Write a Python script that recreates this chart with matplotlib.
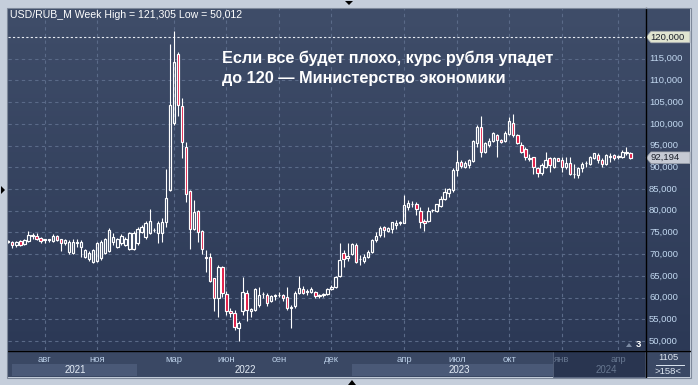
import matplotlib
matplotlib.use('Agg')
import matplotlib.pyplot as plt
import numpy as np
from matplotlib import transforms
from matplotlib.patches import Polygon, Rectangle
from matplotlib.lines import Line2D
from matplotlib.colors import LinearSegmentedColormap

W, H = 698, 385

# ---------------- data (weekly USD/RUB candles) ----------------
opens = [72.7, 72.9, 72.0, 73.0, 72.3, 73.1, 74.2, 74.2, 73.8, 73.3,
         73.4, 73.1, 74.2, 73.4, 72.5, 70.6, 70.3, 72.6, 71.7, 69.4,
         68.8, 68.3, 68.5, 69.0, 70.3, 70.8, 72.9, 71.7, 72.5, 72.1,
         71.1, 71.1, 72.5, 75.2, 73.9, 74.9, 75.5, 74.8, 74.8, 77.5,
         84.8, 100.1, 116.2, 104.0, 94.6, 84.5, 75.8, 79.9, 75.3, 69.4,
         69.3, 64.4, 60.0, 67.0, 60.8, 56.9, 56.4, 52.9, 56.8, 61.0,
         57.0, 57.1, 58.3, 60.8, 60.6, 59.1, 60.4, 60.5, 60.6, 60.2,
         57.7, 58.1, 61.1, 61.9, 61.4, 61.4, 61.2, 60.4, 60.6, 60.75,
         61.9, 62.4, 65.0, 70.2, 69.0, 70.0, 72.1, 68.8, 68.5, 69.3,
         70.6, 73.3, 74.4, 76.3, 75.4, 75.7, 76.7, 77.1, 77.2, 80.8,
         81.5, 81.5, 79.9, 77.7, 77.7, 80.1, 79.9, 81.1, 82.6, 84.0,
         84.8, 89.4, 91.3, 90.0, 90.5, 91.5, 95.7, 99.35, 93.6, 95.1,
         96.1, 97.4, 96.4, 96.1, 97.66, 100.27, 97.43, 95.13, 94.13, 92.1,
         92.29, 89.76, 88.76, 90.14, 92.06, 89.99, 92.06, 91.68, 90.14, 91.06,
         88.5, 88.23, 89.76, 90.9, 90.76, 92.06, 92.83, 91.68, 90.68, 92.4,
         92.83, 92.45, 92.45, 93.3, 93.37]
highs = [73.3, 73.1, 73.0, 73.2, 73.5, 75.3, 74.8, 74.8, 74.0, 73.6,
         73.6, 74.6, 74.4, 73.6, 73.4, 73.3, 73.5, 73.5, 73.2, 71.3,
         70.8, 71.3, 72.9, 73.3, 73.8, 76.0, 74.8, 73.8, 74.6, 74.0,
         75.2, 75.3, 76.2, 76.6, 77.6, 80.3, 76.0, 77.6, 78.3, 89.6,
         118.4, 121.3, 116.5, 105.9, 95.9, 84.7, 82.5, 80.1, 75.5, 70.9,
         70.2, 64.6, 67.5, 67.2, 61.5, 57.5, 57.1, 54.5, 64.8, 61.7,
         57.6, 62.1, 62.5, 61.4, 61.0, 60.6, 60.8, 61.4, 60.8, 62.5,
         58.3, 61.5, 65.0, 62.7, 61.9, 62.4, 61.5, 60.75, 61.1, 62.1,
         62.9, 65.0, 72.5, 70.95, 72.5, 72.6, 72.5, 69.8, 70.0, 71.0,
         73.4, 75.2, 76.5, 76.5, 76.3, 77.5, 77.9, 77.7, 83.6, 82.5,
         82.2, 81.9, 80.8, 78.2, 80.9, 80.5, 81.6, 83.4, 85.2, 85.2,
         89.8, 94.0, 91.7, 91.4, 91.8, 96.4, 99.7, 101.8, 95.9, 96.7,
         98.2, 97.7, 96.6, 98.4, 101.66, 102.27, 97.7, 95.75, 94.75, 92.98,
         92.45, 89.99, 90.91, 93.44, 92.45, 92.45, 92.2, 92.29, 92.29, 92.29,
         90.76, 90.14, 91.29, 91.52, 92.6, 93.37, 93.21, 92.06, 92.98, 93.21,
         93.06, 92.83, 93.98, 94.6, 93.6]
lows = [72.5, 71.5, 71.7, 71.9, 72.0, 72.9, 73.6, 73.3, 72.6, 72.6,
        72.9, 72.9, 73.0, 70.8, 72.1, 70.0, 70.0, 71.7, 69.3, 69.0,
        68.4, 67.9, 68.2, 68.7, 70.0, 70.6, 72.1, 71.5, 72.2, 71.8,
        70.9, 70.9, 72.2, 74.9, 73.6, 74.7, 75.1, 72.5, 72.9, 76.2,
        84.5, 99.8, 101.7, 92.1, 82.1, 71.2, 75.6, 72.7, 70.0, 65.8,
        63.7, 56.9, 55.6, 60.2, 56.0, 55.5, 52.5, 50.0, 56.0, 54.5,
        55.6, 56.8, 57.9, 59.8, 58.0, 58.9, 59.4, 60.2, 59.3, 57.1,
        53.1, 57.5, 60.8, 60.8, 60.7, 61.0, 59.8, 60.0, 60.2, 60.6,
        61.7, 62.1, 64.8, 67.1, 68.5, 69.8, 67.9, 67.5, 67.9, 69.0,
        70.2, 72.9, 74.0, 73.9, 75.2, 74.8, 75.9, 76.7, 77.1, 80.2,
        80.8, 79.0, 76.1, 75.3, 77.5, 79.8, 79.8, 80.8, 82.5, 83.2,
        84.4, 88.0, 89.8, 89.8, 89.8, 91.3, 94.7, 92.4, 93.2, 94.7,
        95.9, 92.3, 95.5, 95.8, 97.43, 97.05, 95.3, 93.21, 91.68, 91.52,
        88.46, 87.84, 88.23, 89.76, 88.99, 89.76, 91.4, 88.99, 89.53, 88.23,
        87.46, 87.46, 88.99, 90.14, 90.53, 91.83, 90.91, 90.14, 90.53, 91.29,
        91.68, 91.83, 92.06, 92.83, 91.83]
closes = [73.1, 72.0, 72.8, 72.0, 73.3, 74.4, 74.3, 73.6, 73.0, 73.4,
          73.2, 74.2, 73.3, 72.6, 73.2, 72.9, 72.8, 72.7, 72.9, 71.0,
          70.3, 71.0, 72.5, 72.9, 73.4, 75.6, 73.9, 73.4, 74.2, 73.6,
          74.8, 74.9, 75.7, 76.2, 77.2, 77.7, 75.6, 77.1, 77.3, 82.9,
          104.3, 114.3, 104.3, 95.9, 83.8, 75.8, 79.8, 75.0, 71.2, 69.2,
          63.9, 60.0, 67.0, 61.0, 56.8, 56.4, 53.3, 54.1, 61.2, 57.1,
          57.3, 61.9, 60.6, 60.9, 58.8, 60.4, 60.5, 60.6, 60.0, 57.5,
          57.8, 61.1, 62.1, 61.1, 61.6, 62.0, 60.4, 60.5, 60.7, 61.9,
          62.4, 64.8, 68.7, 68.8, 69.6, 72.3, 68.3, 68.9, 69.4, 70.6,
          73.3, 74.2, 76.1, 75.6, 76.1, 77.3, 77.2, 77.4, 81.3, 81.7,
          81.6, 80.5, 77.3, 77.1, 79.9, 80.2, 81.5, 82.6, 84.2, 84.9,
          89.4, 91.3, 90.3, 91.1, 91.7, 96.1, 99.35, 93.6, 95.5, 96.1,
          98.0, 96.4, 95.9, 98.0, 100.66, 97.43, 95.52, 93.6, 92.45, 92.0,
          89.99, 88.61, 90.53, 91.68, 90.53, 92.06, 91.52, 90.14, 90.91, 88.46,
          88.4, 89.76, 90.76, 91.0, 92.29, 93.21, 91.68, 90.76, 92.83, 92.5,
          92.06, 92.5, 93.6, 93.4, 92.194]

month_labels = ['авг', 'ноя', 'мар', 'июн', 'сен', 'дек', 'апр', 'июл', 'окт', 'янв', 'апр']
month_bars = [9, 22, 41, 54, 67, 80, 98, 111, 124, 137, 151]
year_labels = ['2021', '2022', '2023', '2024']
year_label_bars = [16.5, 58.6, 111.6, 148.0]
price_ticks = [50, 55, 60, 65, 70, 75, 80, 85, 90, 95, 100, 105, 110, 115]
level_120 = 120.0
header = 'USD/RUB_M Week High = 121,305 Low = 50,012'
title_lines = ['Если все будет плохо, курс рубля упадет', 'до 120 — Министерство экономики']

FONT = ['Liberation Sans', 'DejaVu Sans']
plt.rcParams['font.family'] = FONT


def rect_px(x0, y0, x1, y1):
    return [x0 / W, 1 - y1 / H, (x1 - x0) / W, (y1 - y0) / H]


def fx(px):
    return px / W


def fy(py):
    return 1 - py / H


fig = plt.figure(figsize=(W / 100, H / 100), dpi=100)
fig.patch.set_facecolor('#c5cedb')

# gradient background for plot and price axis
bg = fig.add_axes(rect_px(8, 8, 690, 350))
grad = np.linspace(0, 1, 256).reshape(-1, 1)
cmap = LinearSegmentedColormap.from_list('g', ['#3f4d69', '#2c3956'])
bg.imshow(grad, aspect='auto', cmap=cmap, extent=[0, 1, 0, 1], origin='upper')
bg.axis('off')

ax = fig.add_axes(rect_px(8, 8, 645, 350))
ax.set_facecolor('none')
ax.set_xlim(-0.07, 157.6)
ax.set_ylim(47.93, 126.68)
ax.axis('off')

grid_c = '#5a6a88'
for v in price_ticks:
    ax.axhline(v, color=grid_c, lw=0.8, ls=(0, (3, 3)), zorder=1)
for m in month_bars:
    ax.axvline(m, color=grid_c, lw=0.8, ls=(0, (3, 3)), zorder=1)
ax.axhline(level_120, color='#e6ebf3', lw=0.8, ls=(0, (2, 2)), zorder=2)

# candles
o = np.array(opens); h = np.array(highs); l = np.array(lows); c = np.array(closes)
x = np.arange(len(c))
top = np.maximum(o, c)
bot = np.minimum(o, c)
up = c >= o
face = ['none' if u else '#e0103c' for u in up]
ax.vlines(x, top, h, color='white', lw=0.8, zorder=3)
ax.vlines(x, l, bot, color='white', lw=0.8, zorder=3)
hgt = np.maximum(top - bot, 0.12)
ax.bar(x, hgt, bottom=bot, width=0.58, color=face, edgecolor='white', linewidth=0.85, zorder=4)

# header & title
fig.text(fx(10), fy(15), header, color='white', fontsize=7.6, va='center', ha='left')
fig.text(fx(222), fy(63.3), title_lines[0], color='white', fontsize=11.7, fontweight='bold', va='baseline', ha='left')
fig.text(fx(222), fy(82.7), title_lines[1], color='white', fontsize=11.7, fontweight='bold', va='baseline', ha='left')

# price axis labels
ytr = transforms.blended_transform_factory(fig.transFigure, ax.transData)
for v in price_ticks:
    fig.text(fx(649), v, f'{v},000', transform=ytr, color='#c2d8f0', fontsize=6.8, va='center', ha='left')


def tag(value, text, fc):
    hh = 5.8 / 4.343
    pts = [(fx(646), value), (fx(651), value + hh), (fx(690), value + hh), (fx(690), value - hh), (fx(651), value - hh)]
    fig.add_artist(Polygon(pts, closed=True, transform=ytr, facecolor=fc, edgecolor='#9aa0aa', lw=0.5, zorder=5))
    fig.text(fx(650.5), value, text, transform=ytr, color='#1a1f2a', fontsize=6.8, va='center', ha='left', zorder=6)


tag(level_120, '120,000', '#e0e4d0')
tag(closes[-1], f'{closes[-1]:.3f}'.replace('.', ','), '#c6cad4')

# x-axis strip
fig.add_artist(Rectangle((fx(8), fy(377)), (690 - 8) / W, 27 / H, transform=fig.transFigure,
                         facecolor='#3a4864', edgecolor='none', zorder=0.5))
xtr = transforms.blended_transform_factory(ax.transData, fig.transFigure)
for x0, x1 in [(0.9, 31.9), (85.0, 134.9)]:
    fig.add_artist(Rectangle((x0, fy(376)), x1 - x0, 12 / H, transform=xtr,
                             facecolor='#4a5977', edgecolor='none', zorder=1))
# dimmed 2024 region
fig.add_artist(Rectangle((134.9, fy(377)), 157.6 - 134.9, 26 / H, transform=xtr,
                         facecolor='#293550', edgecolor='#56627c', lw=0.6, zorder=1.5))
for lab, m in zip(month_labels, month_bars):
    col = '#66768f' if m > 134.9 else '#b8cce4'
    fig.text(m, fy(359), lab, transform=xtr, color=col, fontsize=6.8, va='center', ha='center', zorder=3)
for lab, m in zip(year_labels, year_label_bars):
    col = '#66768f' if m > 134.9 else '#e4ecf6'
    fig.text(m, fy(370), lab, transform=xtr, color=col, fontsize=7.0, va='center', ha='center', zorder=3)

# separator lines
fig.add_artist(Line2D([fx(8), fx(690)], [fy(350.5), fy(350.5)], color='black', lw=1.0, zorder=6))
fig.add_artist(Line2D([fx(645.5), fx(645.5)], [fy(8), fy(377)], color='black', lw=1.0, zorder=6))
fig.add_artist(Rectangle((fx(7.5), fy(377.5)), (690 - 7) / W, 370 / H, transform=fig.transFigure,
                         facecolor='none', edgecolor='#7d889a', lw=0.8, zorder=6))

# bottom-right box
fig.text(fx(668), fy(357.5), '1105', color='#dde6f1', fontsize=6.8, va='center', ha='center')
fig.add_artist(Line2D([fx(656), fx(684)], [fy(364.5), fy(364.5)], color='#dde6f1', lw=0.7))
fig.text(fx(668), fy(371), '>158<', color='#dde6f1', fontsize=6.8, va='center', ha='center')

# small "3" marker
fig.text(fx(638), fy(344.5), '3', color='white', fontsize=6.8, fontweight='bold', va='center', ha='center')
fig.add_artist(Polygon([(fx(626), fy(347)), (fx(632), fy(347)), (fx(629), fy(343))], closed=True,
                       transform=fig.transFigure, facecolor='#7c8ba4', edgecolor='none'))

# frame triangles
for pts in ([(345, 1), (353, 1), (349, 5)], [(1, 186), (1, 194), (5, 190)], [(348, 385), (356, 385), (352, 380)]):
    fig.add_artist(Polygon([(fx(a), fy(b)) for a, b in pts], closed=True, transform=fig.transFigure,
                           facecolor='black', edgecolor='none'))

fig.savefig('out.png', dpi=100, facecolor=fig.get_facecolor())
